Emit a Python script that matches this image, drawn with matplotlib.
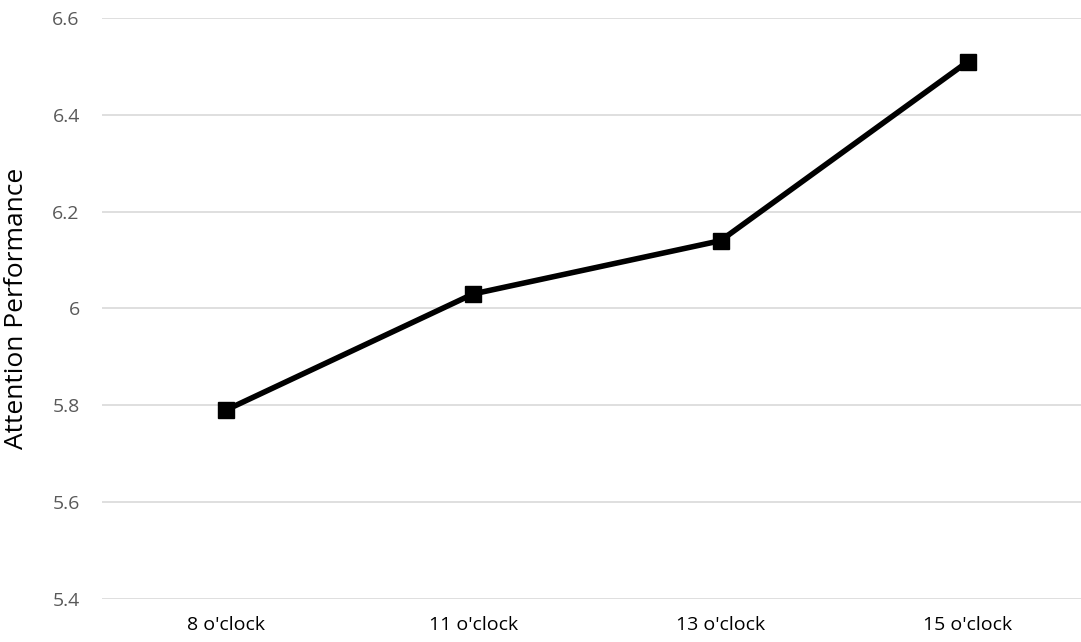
import matplotlib
matplotlib.use('Agg')
import matplotlib.pyplot as plt

times = ["8 o'clock", "11 o'clock", "13 o'clock", "15 o'clock"]
attention = [5.79, 6.03, 6.14, 6.51]
y_ticks = [5.4, 5.6, 5.8, 6.0, 6.2, 6.4, 6.6]
y_tick_labels = ['5.4', '5.6', '5.8', '6', '6.2', '6.4', '6.6']

plt.rcParams['font.family'] = ['Open Sans', 'DejaVu Sans']

fig = plt.figure(figsize=(10.81, 6.42), dpi=100)
ax = fig.add_axes([0.0944, 0.067, 0.9056, 0.905])

x = range(len(times))
ax.plot(x, attention, color='black', linewidth=4, marker='s', markersize=11,
        solid_capstyle='butt', zorder=3)

ax.set_xlim(-0.5, 3.457)
ax.set_ylim(5.4, 6.6)
ax.set_yticks(y_ticks)
ax.set_yticklabels(y_tick_labels)
ax.set_xticks(list(x))
ax.set_xticklabels(times)

ax.grid(True, axis='y', color='#d9d9d9', linewidth=1.2)
ax.set_axisbelow(True)
for s in ax.spines.values():
    s.set_visible(False)
ax.tick_params(axis='both', length=0)
ax.tick_params(axis='y', colors='#595959', labelsize=14, pad=16)
ax.tick_params(axis='x', colors='black', labelsize=14, pad=12)
ax.set_ylabel('Attention Performance', fontsize=19)
ax.yaxis.set_label_coords(-0.075, 0.5)

fig.savefig('out.png', dpi=100)
